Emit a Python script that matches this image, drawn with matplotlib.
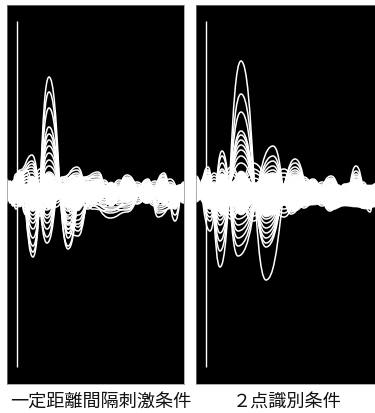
import matplotlib
matplotlib.use("Agg")
import matplotlib.pyplot as plt
from matplotlib.path import Path
from matplotlib.patches import PathPatch

plt.rcParams['font.family'] = ['Noto Sans CJK JP', 'DejaVu Sans']

labels = ["一定距離間隔刺激条件", "２点識別条件"]

# ---- left panel: time nodes and signed amplitudes
left_ax = [7, 13, 19, 33, 49, 68, 84, 98, 111, 127, 147, 164, 175, 184]
left_bx = [7, 13, 20, 32, 47, 62, 77, 92, 110, 127, 148, 158, 174, 184]
left_cx = [7, 10, 16, 26, 40, 56, 72, 88, 104, 119, 137, 155, 170, 184]
left_a = [
    [-6, 8, 20, -66, 114, -58, 14, 19, -14, 16, -12, 18, -30, 6],
    [-5, 7, 18, -61, 99, -55, 12, 17, -12, 13, -10, 16, -24, 5],
    [-6, 9, 16, -55, 83, -42, 13, 14, -14, 12, -11, 15, -18, 7],
    [-4, 6, 19, -47, 64, -38, 11, 12, -10, 14, -9, 12, -16, 6],
    [-6, 10, 14, -38, 57, -33, 13, 15, -15, 11, -12, 11, -14, 8],
    [-5, 8, 12, -32, 51, -28, 9, 10, -11, 10, -10, 13, -12, 5],
    [-3, 7, 12, -28, 45, -24, 12, 11, -9, 9, -11, 10, -15, 6],
    [-6, 5, 9, -24, 38, -20, 8, 9, -12, 12, -8, 9, -11, 4],
    [-4, 6, 10, -20, 31, -17, 7, 8, -8, 8, -7, 8, -9, 4],
    [-3, 4, 8, -15, 25, -14, 6, 6, -7, 7, -6, 7, -8, 3],
    [-5, 5, 7, -12, 19, -11, 5, 7, -5, 6, -5, 6, -7, 5],
]
left_b = [
    [11, -13, 21, 36, -52, 12, 24, -14, -27, -21, 12, -26, -14, 9],
    [9, -11, 19, 30, -46, 14, 21, -15, -22, -18, 11, -22, -16, 7],
    [10, -15, 18, 24, -38, 11, 16, -12, -18, -19, 9, -18, -13, 8],
    [7, -14, 15, 27, -32, 10, 18, -18, -20, -14, 10, -20, -17, 6],
    [9, -12, 17, 21, -27, 13, 13, -13, -16, -16, 8, -16, -11, 7],
    [6, -10, 14, 18, -24, 9, 15, -11, -19, -13, 7, -14, -12, 5],
    [5, -8, 11, 14, -19, 7, 11, -9, -12, -10, 6, -11, -9, 4],
    [4, -7, 8, 11, -14, 6, 9, -7, -9, -8, 5, -8, -7, 3],
]
left_c = [
    [12, -9, 17, -24, 22, -16, 15, -16, 11, -14, 9, -13, 12, -9],
    [-11, 10, -18, 21, -25, 14, -19, 13, -13, 11, -12, 10, -14, 8],
    [9, -12, 14, -19, 18, -12, 12, -18, 9, -12, 7, -15, 9, -11],
    [-9, 8, -15, 16, -20, 10, -22, 10, -15, 9, -13, 8, -16, 7],
    [7, -11, 12, -22, 15, -9, 10, -12, 8, -10, 6, -11, 7, -12],
    [-7, 6, -12, 13, -16, 8, -17, 8, -11, 7, -10, 6, -13, 6],
    [10, -7, 10, -16, 11, -7, 8, -10, 6, -8, 5, -9, 6, -8],
    [-6, 5, -9, 10, -12, 6, -13, 6, -9, 5, -8, 5, -10, 5],
]
left_core_x = [7, 13, 20, 26, 32, 40, 49, 60, 68, 77, 88, 98, 105, 111, 118, 127, 138, 147, 155, 164, 172, 184]
left_core_top = [9, 6, 13, 7, 15, 8, 18, 7, 10, 14, 6, 12, 5, 9, 5, 10, 4, 8, 4, 11, 5, 7]
left_core_bot = [-10, -7, -16, -9, -20, -10, -18, -8, -16, -20, -10, -11, -7, -13, -7, -12, -6, -10, -7, -13, -8, -10]
left_extra_x = [60, 68, 78, 90]
left_extra = [
    [-8, -26, -36, -12], [-9, -31, -40, -10], [-7, -34, -33, -13],
    [-10, -38, -29, -9], [-8, -42, -45, -8], [-6, -47, -24, -11],
]

# ---- right panel
right_ax = [196, 208, 220, 241, 266, 295, 313, 331, 345, 356, 370, 375]
right_bx = [196, 210, 222, 238, 273, 291, 313, 330, 345, 356, 370, 375]
right_cx = [196, 203, 214, 231, 253, 284, 304, 322, 338, 350, 363, 375]
right_a = [
    [-8, 24, -76, 130, -89, 32, -10, 15, -7, 25, -21, 6],
    [-6, 21, -60, 97, -56, 28, -9, 12, -6, 20, -18, 5],
    [-9, 18, -50, 79, -52, 24, -11, 13, -8, 17, -15, 7],
    [-7, 19, -42, 60, -47, 21, -8, 10, -5, 15, -14, 4],
    [-8, 16, -34, 56, -42, 19, -10, 11, -7, 14, -12, 6],
    [-6, 15, -29, 51, -37, 17, -7, 9, -6, 12, -11, 5],
    [-5, 14, -25, 46, -32, 15, -9, 8, -5, 11, -10, 4],
    [-7, 12, -21, 41, -28, 13, -6, 10, -7, 10, -9, 5],
    [-5, 10, -18, 35, -23, 11, -7, 7, -4, 9, -8, 4],
    [-4, 9, -14, 28, -18, 9, -5, 6, -4, 7, -7, 3],
]
right_b = [
    [15, -40, 40, -65, 45, -23, 12, -20, 6, 9, -12, 4],
    [13, -30, 35, -55, 35, -21, 10, -18, 7, 10, -14, 5],
    [11, -26, 28, -47, 30, -20, 11, -17, 5, 8, -13, 3],
    [12, -22, 22, -40, 25, -18, 9, -15, 6, 7, -11, 4],
    [10, -18, 20, -34, 21, -16, 8, -14, 4, 6, -10, 3],
    [9, -16, 17, -28, 18, -14, 9, -12, 5, 7, -12, 4],
    [7, -13, 14, -22, 14, -12, 7, -10, 4, 5, -9, 3],
]
right_c = [
    [10, -9, 18, -28, 28, -26, 14, -15, 6, -14, 9, -15],
    [-11, 12, -22, 24, -30, 22, -17, 9, -16, 5, -17, 7],
    [8, -11, 15, -24, 22, -22, 12, -13, 5, -12, 7, -13],
    [-9, 10, -18, 20, -25, 18, -15, 7, -14, 4, -15, 5],
    [7, -8, 12, -20, 18, -18, 10, -11, 4, -10, 6, -11],
    [-7, 8, -14, 16, -20, 14, -13, 6, -12, 3, -13, 4],
    [5, -6, 9, -15, 13, -14, 8, -9, 3, -8, 4, -9],
]
right_core_x = [196, 202, 207, 214, 222, 231, 241, 254, 266, 273, 285, 295, 305, 313, 322, 331, 345, 356, 366, 375]
right_core_top = [8, 6, 14, 8, 17, 9, 20, 8, 17, 18, 7, 16, 9, 9, 5, 7, 3, 12, 6, 6]
right_core_bot = [-11, -8, -18, -12, -24, -14, -24, -12, -26, -24, -14, -20, -15, -14, -13, -19, -15, -16, -18, -16]

stim_x = [17, 206]
stim_y = [-176, 170]


def curve_path(xs, ys, first=True):
    """Smooth path through extrema, with a flat tangent at each node."""
    verts = [(xs[0], ys[0])]
    codes = [Path.MOVETO] if first else [Path.LINETO]
    for i in range(len(xs) - 1):
        mid = (xs[i] + xs[i + 1]) / 2
        verts += [(mid, ys[i]), (mid, ys[i + 1]), (xs[i + 1], ys[i + 1])]
        codes += [Path.CURVE4] * 3
    return verts, codes


def draw_trace(ax, xs, ys):
    v, c = curve_path(xs, ys)
    ax.add_patch(PathPatch(Path(v, c), fc='none', ec='white', lw=1.1))


def draw_core(ax, xs, top, bot):
    v1, c1 = curve_path(xs, top)
    v2, c2 = curve_path(xs[::-1], bot[::-1], first=False)
    ax.add_patch(PathPatch(Path(v1 + v2, c1 + c2), fc='white', ec='white', lw=0.5))


W, H = 375, 414
fig = plt.figure(figsize=(W / 100, H / 100), dpi=100, facecolor='white')


def panel(x0, x1):
    ax = fig.add_axes([x0 / W, 1 - 385 / H, (x1 - x0) / W, 379 / H], facecolor='black')
    ax.set_xlim(x0, x1)
    ax.set_ylim(-193, 186)
    ax.set_xticks([])
    ax.set_yticks([])
    for s in ax.spines.values():
        s.set_color('#888888')
        s.set_linewidth(0.5)
    return ax


axL = panel(7, 184)
axR = panel(196, 375)

draw_core(axL, left_core_x, left_core_top, left_core_bot)
for xs, group in ((left_ax, left_a), (left_bx, left_b), (left_cx, left_c), (left_extra_x, left_extra)):
    for t in group:
        draw_trace(axL, xs, t)

draw_core(axR, right_core_x, right_core_top, right_core_bot)
for xs, group in ((right_ax, right_a), (right_bx, right_b), (right_cx, right_c)):
    for t in group:
        draw_trace(axR, xs, t)

axL.plot([stim_x[0]] * 2, stim_y, color='white', lw=1.0, solid_capstyle='butt')
axR.plot([stim_x[1]] * 2, stim_y, color='white', lw=1.0, solid_capstyle='butt')

fig.text(101 / W, 1 - 403 / H, labels[0], ha='center', va='center', fontsize=13.1, color='#111111')
fig.text(287 / W, 1 - 403 / H, labels[1], ha='center', va='center', fontsize=13.1, color='#111111')

fig.savefig('out.png', dpi=100, facecolor='white')
